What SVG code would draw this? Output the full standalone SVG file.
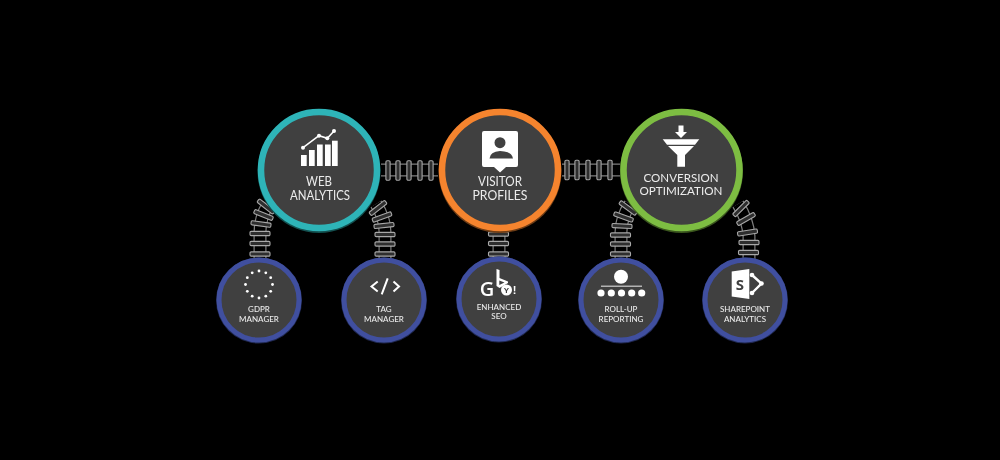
<svg xmlns="http://www.w3.org/2000/svg" width="1000" height="460" viewBox="0 0 1000 460">
<style>
.big{fill:#404040;stroke-width:6.5}
.small{fill:#404040;stroke:#3f4f9f;stroke-width:5}
.t{font-family:Lato,"Open Sans","Liberation Sans",sans-serif;fill:#ececec;text-anchor:middle}
.l{font-size:12.6px}
.c{font-size:11.2px}
.s{font-size:8px;font-weight:500}
.w{fill:#fff}
.ro{fill:none;stroke:#7f7f7f;stroke-width:13}
.ri{fill:none;stroke:#000;stroke-width:10.6}
.tie{fill:#2e2e2e;stroke:#a8a8a8;stroke-width:1.1}
</style>
<defs>
<filter id="soft" x="-5%" y="-5%" width="110%" height="110%"><feGaussianBlur stdDeviation="0.45"/></filter>
<rect id="tie" x="-10" y="-2.100" width="20" height="4.200" rx="1.200" class="tie"/>
<rect id="tieH" x="-2.100" y="-9.800" width="4.200" height="19.600" rx="1.200" class="tie"/>
</defs>
<rect width="1000" height="460" fill="#000"/>
<g filter="url(#soft)">
<g id="connectors">
<path class="ro" d="M381 170H438M562 170H620M260 260V232Q260 218 268 204M385 260V232Q385 218 376 204M499 260V228M621 260V232Q621 218 630 204M749 260V236Q748 220 738 204"/>
<path class="ri" d="M381 170H438M562 170H620M260 260V232Q260 218 268 204M385 260V232Q385 218 376 204M499 260V228M621 260V232Q621 218 630 204M749 260V236Q748 220 738 204"/>
<use href="#tieH" x="388" y="170.500"/><use href="#tieH" x="398" y="170.500"/><use href="#tieH" x="409" y="170.500"/><use href="#tieH" x="420" y="170.500"/><use href="#tieH" x="431" y="170.500"/>
<use href="#tieH" x="567" y="170"/><use href="#tieH" x="577" y="170"/><use href="#tieH" x="588" y="170"/><use href="#tieH" x="599" y="170"/><use href="#tieH" x="610" y="170"/>
<use href="#tie" transform="translate(260 254)"/><use href="#tie" transform="translate(260 243.500)"/><use href="#tie" transform="translate(260 233.500)"/><use href="#tie" transform="translate(261 224) rotate(8)"/><use href="#tie" transform="translate(263.500 215) rotate(22)"/><use href="#tie" transform="translate(266 206.500) rotate(38)"/>
<use href="#tie" transform="translate(385 254)"/><use href="#tie" transform="translate(385 244)"/><use href="#tie" transform="translate(385 234.500)"/><use href="#tie" transform="translate(384 225.500) rotate(-6)"/><use href="#tie" transform="translate(382 217) rotate(-20)"/><use href="#tie" transform="translate(378 208) rotate(-38)"/>
<use href="#tie" transform="translate(498.500 254)"/><use href="#tie" transform="translate(498.500 243.500)"/><use href="#tie" transform="translate(498.500 234)"/>
<use href="#tie" transform="translate(620.500 254)"/><use href="#tie" transform="translate(620.500 244)"/><use href="#tie" transform="translate(620.500 235)"/><use href="#tie" transform="translate(622 226) rotate(3)"/><use href="#tie" transform="translate(623.500 217) rotate(20)"/><use href="#tie" transform="translate(628 208) rotate(36)"/>
<use href="#tie" transform="translate(748.500 252.500)"/><use href="#tie" transform="translate(749 242.500)"/><use href="#tie" transform="translate(747.500 232.500) rotate(-9)"/><use href="#tie" transform="translate(746 219) rotate(-30)"/><use href="#tie" transform="translate(741 208.500) rotate(-45)"/>
</g>

<g id="web-analytics">
<circle cx="319" cy="171.500" r="61.500" fill="#12504f"/>
<circle class="big" cx="319" cy="170" r="58" stroke="#2fb4b8"/>
<g class="w"><rect x="301" y="155" width="5.700" height="11"/><rect x="309" y="150" width="5.700" height="16"/><rect x="317" y="144.500" width="5.700" height="21.500"/><rect x="325" y="144.500" width="5.700" height="21.500"/><rect x="332" y="140.700" width="5.700" height="25.300"/>
<path d="M303 147.700L319 135.700L327.300 138.300L334 131" fill="none" stroke="#fff" stroke-width="1.500"/><circle cx="303" cy="147.700" r="2"/><circle cx="319" cy="135.700" r="2"/><circle cx="327.300" cy="138.300" r="2"/><circle cx="334" cy="131" r="2"/></g>
<text class="t l" x="319" y="186" textLength="26" lengthAdjust="spacingAndGlyphs">WEB</text><text class="t l" x="320" y="200" textLength="60" lengthAdjust="spacingAndGlyphs">ANALYTICS</text>
</g>

<g id="visitor-profiles">
<circle cx="500" cy="171.500" r="61.500" fill="#6e3c15"/>
<circle class="big" cx="500" cy="170" r="58" stroke="#f5842f"/>
<path class="w" d="M484 131H516Q518 131 518 133V165Q518 167 516 167H506L500 172.500L494 167H484Q482 167 482 165V133Q482 131 484 131Z"/>
<circle cx="500" cy="142.700" r="5.500" fill="#404040"/><path d="M489.500 158.500Q490 151.500 500 151Q512 151.500 513 158.500Z" fill="#404040"/>
<text class="t l" x="500" y="186" textLength="44" lengthAdjust="spacingAndGlyphs">VISITOR</text><text class="t l" x="500" y="200" textLength="55" lengthAdjust="spacingAndGlyphs">PROFILES</text>
</g>

<g id="conversion-optimization">
<circle cx="681.500" cy="171.500" r="61.500" fill="#3a561f"/>
<circle class="big" cx="681.500" cy="170" r="58" stroke="#7dbd43"/>
<g class="w"><path d="M678.500 125.500H683.500V132H687L681 138L675 132H678.500Z"/><path d="M662.700 139.300H699.300L695 144.700H667Z"/><path d="M668 145.900H694L685 155V166.700H677.300V155Z"/></g>
<text class="t c" x="681" y="181.500" textLength="75" lengthAdjust="spacingAndGlyphs">CONVERSION</text><text class="t c" x="681" y="195" textLength="83" lengthAdjust="spacingAndGlyphs">OPTIMIZATION</text>
</g>

<g id="gdpr-manager">
<circle cx="259" cy="300.500" r="43" fill="#20284f"/>
<circle class="small" cx="259" cy="300" r="40"/>
<g class="w"><circle cx="259" cy="271" r="1.400"/><circle cx="265.800" cy="272.800" r="1.400"/><circle cx="270.700" cy="277.700" r="1.400"/><circle cx="272.500" cy="284.500" r="1.400"/><circle cx="270.700" cy="291.300" r="1.400"/><circle cx="265.800" cy="296.200" r="1.400"/><circle cx="259" cy="298" r="1.400"/><circle cx="252.200" cy="296.200" r="1.400"/><circle cx="247.300" cy="291.300" r="1.400"/><circle cx="245.500" cy="284.500" r="1.400"/><circle cx="247.300" cy="277.700" r="1.400"/><circle cx="252.200" cy="272.800" r="1.400"/></g>
<text class="t s" x="259" y="312">GDPR</text><text class="t s" x="259" y="322">MANAGER</text>
</g>

<g id="tag-manager">
<circle cx="384" cy="300.500" r="43" fill="#20284f"/>
<circle class="small" cx="384" cy="300" r="40"/>
<path d="M377.700 281.500L371.500 286.500L377.700 291.500M393.500 281.500L399 286.500L393.500 291.500M387.700 278.300L381.700 294.300" fill="none" stroke="#fff" stroke-width="2"/>
<text class="t s" x="384" y="312">TAG</text><text class="t s" x="384" y="322">MANAGER</text>
</g>

<g id="enhanced-seo">
<circle cx="499" cy="299.500" r="43" fill="#20284f"/>
<circle class="small" cx="499" cy="299" r="40"/>
<text x="487" y="295.500" font-family="'Open Sans','Liberation Sans',sans-serif" font-size="20" font-weight="600" fill="#fff" text-anchor="middle">G</text>
<path class="w" d="M496.500 269L499.500 270V278L508 281.500V283L499.500 288L496.500 286Z"/><path d="M499.300 280.500V285L504.500 282.500Z" fill="#404040"/>
<circle class="w" cx="506.500" cy="290" r="5.500"/>
<text x="506.500" y="293" font-family="'Liberation Sans',sans-serif" font-size="8" font-weight="700" fill="#404040" text-anchor="middle">Y</text>
<text x="514.500" y="294" font-family="'Liberation Sans',sans-serif" font-size="11" font-weight="700" fill="#fff" text-anchor="middle">!</text>
<text class="t s" x="499" y="310" font-size="8.400">ENHANCED</text><text class="t s" x="499" y="319">SEO</text>
</g>

<g id="roll-up-reporting">
<circle cx="621" cy="300.500" r="43" fill="#20284f"/>
<circle class="small" cx="621" cy="300" r="40"/>
<g class="w"><circle cx="621" cy="276.700" r="7"/><rect x="601" y="285.700" width="41" height="0.900"/><circle cx="601" cy="293" r="3.600"/><circle cx="611.300" cy="293" r="3.600"/><circle cx="621.500" cy="293" r="3.600"/><circle cx="631.700" cy="293" r="3.600"/><circle cx="641.700" cy="293" r="3.600"/></g>
<text class="t s" x="621" y="311.500">ROLL-UP</text><text class="t s" x="621" y="322">REPORTING</text>
</g>

<g id="sharepoint-analytics">
<circle cx="745" cy="300.500" r="43" fill="#20284f"/>
<circle class="small" cx="745" cy="300" r="40"/>
<path class="w" d="M731.700 271.500L749.300 269V299L731.700 296.500Z"/>
<text x="740" y="290" font-family="'Open Sans','Liberation Sans',sans-serif" font-size="15" font-weight="700" fill="#404040" text-anchor="middle">S</text>
<path d="M752 275L761.500 283.500L752 293" fill="none" stroke="#fff" stroke-width="2.400"/><g class="w"><circle cx="752" cy="275" r="2.300"/><circle cx="761.500" cy="283.500" r="2.300"/><circle cx="752" cy="293" r="2.300"/></g>
<text class="t s" x="745" y="312">SHAREPOINT</text><text class="t s" x="745" y="321.500">ANALYTICS</text>
</g>
</g>
</svg>
